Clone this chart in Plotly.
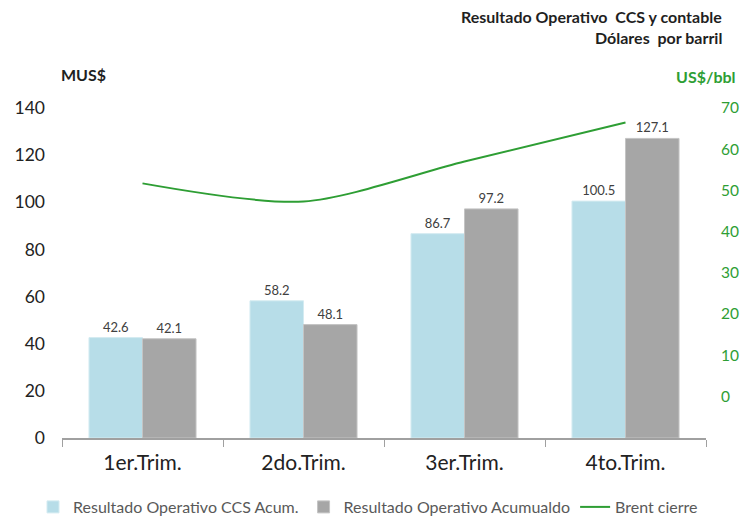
import plotly.graph_objects as go

# Data
quarters = ["1er.Trim.", "2do.Trim.", "3er.Trim.", "4to.Trim."]
ccs_acum = [42.6, 58.2, 86.7, 100.5]
contable_acum = [42.1, 48.1, 97.2, 127.1]
brent_cierre = [51.7, 47.3, 57.0, 66.5]

FONT = "Lato, 'Open Sans', sans-serif"
TEXT_DARK = "#404040"
GREEN = "#2e9e34"

# The page body adds an 8px offset, so the figure is laid out 8px up/left.
OFF = 8
W, H = 748, 518
# plot area in window pixels (as in the reference)
PX_L, PX_R, PX_T, PX_B = 62, 706, 108, 438
L, T = PX_L - OFF, PX_T - OFF
R, B = W - (PX_R - OFF), H - (PX_B - OFF)
plot_w = PX_R - PX_L
plot_h = PX_B - PX_T


def px_x(px):
    return (px - PX_L) / plot_w


def px_y(py):
    return (PX_B - py) / plot_h


fig = go.Figure()

fig.add_trace(go.Bar(
    x=quarters, y=ccs_acum,
    name="Resultado Operativo CCS Acum.",
    marker=dict(color="#b7dde8", line=dict(color="#d4ebf1", width=1)),
    text=[f"{v:.1f}" for v in ccs_acum],
    textposition="outside",
    textfont=dict(size=13, color=TEXT_DARK),
    cliponaxis=False,
))
fig.add_trace(go.Bar(
    x=quarters, y=contable_acum,
    name="Resultado Operativo Acumualdo",
    marker=dict(color="#a6a6a6", line=dict(color="#c4c4c4", width=1)),
    text=[f"{v:.1f}" for v in contable_acum],
    textposition="outside",
    textfont=dict(size=13, color=TEXT_DARK),
    cliponaxis=False,
))
fig.add_trace(go.Scatter(
    x=quarters, y=brent_cierre,
    name="Brent cierre",
    mode="lines",
    line=dict(color=GREEN, width=2, shape="spline", smoothing=0.8),
    yaxis="y2",
))

fig.update_layout(
    width=W, height=H,
    margin=dict(l=L, r=R, t=T, b=B, autoexpand=False),
    paper_bgcolor="white", plot_bgcolor="white",
    font=dict(family=FONT, color=TEXT_DARK),
    barmode="group", bargap=0.335, bargroupgap=0,
    showlegend=True,
    legend=dict(
        orientation="h", x=px_x(33), xanchor="left",
        y=px_y(507), yanchor="middle",
        font=dict(size=16, color="#595959"),
        itemwidth=30, tracegroupgap=0,
    ),
    xaxis=dict(
        showline=True, linecolor="#a0a0a0", linewidth=1.5,
        ticks="outside", tickson="boundaries", ticklen=7, tickcolor="#a0a0a0",
        tickfont=dict(size=21, color="#222222"), ticklabelstandoff=5,
        showgrid=False, automargin=False,
    ),
    yaxis=dict(
        range=[0, 140], dtick=20, showgrid=False, zeroline=False,
        showline=False, ticks="", ticklabelstandoff=16,
        tickfont=dict(size=17.5, color="#222222"), automargin=False,
    ),
    yaxis2=dict(
        overlaying="y", side="right", range=[-10.1, 70],
        tickvals=[0, 10, 20, 30, 40, 50, 60, 70],
        showgrid=False, zeroline=False, showline=False, ticks="",
        ticklabelstandoff=14, automargin=False,
        tickfont=dict(size=15.5, color=GREEN),
    ),
)

# header texts
HEAD = dict(size=16, color="#1f1f1f")
fig.add_annotation(text="<b>Resultado Operativo  CCS y contable</b>",
                   xref="paper", yref="paper", x=px_x(724), y=px_y(17),
                   xanchor="right", yanchor="middle", showarrow=False,
                   font=HEAD)
fig.add_annotation(text="<b>Dólares  por barril</b>",
                   xref="paper", yref="paper", x=px_x(724), y=px_y(38),
                   xanchor="right", yanchor="middle", showarrow=False,
                   font=HEAD)
fig.add_annotation(text="<b>MUS$</b>",
                   xref="paper", yref="paper", x=px_x(59), y=px_y(75),
                   xanchor="left", yanchor="middle", showarrow=False,
                   font=HEAD)
fig.add_annotation(text="<b>US$/bbl</b>",
                   xref="paper", yref="paper", x=px_x(738), y=px_y(76),
                   xanchor="right", yanchor="middle", showarrow=False,
                   font=dict(size=16, color=GREEN))

fig.write_html("out.html")
